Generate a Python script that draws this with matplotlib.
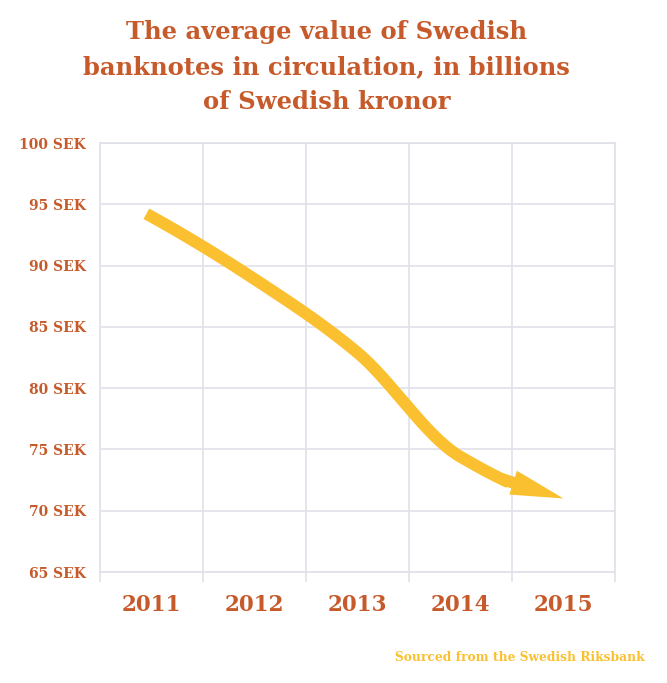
import numpy as np
import matplotlib
matplotlib.use("Agg")
import matplotlib.pyplot as plt
from matplotlib.patches import FancyArrowPatch

# data
years = ["2011", "2012", "2013", "2014", "2015"]
values = [94.0, 88.9, 82.9, 74.4, 71.0]
yticks = [65, 70, 75, 80, 85, 90, 95, 100]

title = "The average value of Swedish\nbanknotes in circulation, in billions\nof Swedish kronor"
source = "Sourced from the Swedish Riksbank"

rust = "#C65A2B"
yellow = "#FBC02F"
gridc = "#E0E2EA"


def pchip(xk, yk, xs):
    # monotone cubic (Fritsch-Carlson), numpy only
    xk = np.asarray(xk, float)
    yk = np.asarray(yk, float)
    h = np.diff(xk)
    d = np.diff(yk) / h
    m = np.zeros_like(yk)
    for i in range(1, len(xk) - 1):
        if d[i - 1] * d[i] > 0:
            w1 = 2 * h[i] + h[i - 1]
            w2 = h[i] + 2 * h[i - 1]
            m[i] = (w1 + w2) / (w1 / d[i - 1] + w2 / d[i])
    m[0] = ((2 * h[0] + h[1]) * d[0] - h[0] * d[1]) / (h[0] + h[1])
    m[-1] = ((2 * h[-1] + h[-2]) * d[-1] - h[-1] * d[-2]) / (h[-1] + h[-2])
    idx = np.clip(np.searchsorted(xk, xs) - 1, 0, len(h) - 1)
    t = (xs - xk[idx]) / h[idx]
    h00 = 2 * t**3 - 3 * t**2 + 1
    h10 = t**3 - 2 * t**2 + t
    h01 = -2 * t**3 + 3 * t**2
    h11 = t**3 - t**2
    return h00 * yk[idx] + h10 * h[idx] * m[idx] + h01 * yk[idx + 1] + h11 * h[idx] * m[idx + 1]


fig = plt.figure(figsize=(6.67, 6.83), dpi=100)
ax = fig.add_axes([0.15, 0.1625, 0.772, 0.628])

xpos = np.arange(len(years)) + 0.5

# smooth line, then arrow head for the last stretch
xs = np.linspace(0.45, 3.97, 300)
ys = pchip(xpos, values, xs)
ax.plot(xs, ys, color=yellow, lw=8.6, solid_capstyle="butt", zorder=3)

xa = 3.9
ya = pchip(xpos, values, np.array([xa]))[0]
arr = FancyArrowPatch((xa, ya), (xpos[-1], values[-1]),
                      arrowstyle="simple,head_length=38,head_width=18,tail_width=8.6",
                      mutation_scale=1, color=yellow, lw=0,
                      shrinkA=0, shrinkB=0, zorder=3)
ax.add_patch(arr)

ax.set_xlim(0, len(years))
ax.set_ylim(yticks[0], yticks[-1])

ax.set_yticks(yticks)
ax.set_yticklabels([f"{v} SEK" for v in yticks])
ax.set_xticks(np.arange(len(years) + 1))
ax.set_xticklabels([])
ax.set_xticks(xpos, minor=True)
ax.set_xticklabels(years, minor=True)

ax.grid(True, which="major", color=gridc, lw=1.2)
ax.set_axisbelow(True)
for s in ax.spines.values():
    s.set_color(gridc)
    s.set_linewidth(1.2)

ax.tick_params(axis="y", length=0, pad=10, labelcolor=rust, labelsize=10)
ax.tick_params(axis="x", which="major", length=7, width=1.2, color=gridc, direction="out")
ax.tick_params(axis="x", which="minor", length=0, pad=16, labelcolor=rust, labelsize=15.5)
for lab in ax.get_xticklabels(minor=True):
    lab.set_fontweight("bold")
    lab.set_family("DejaVu Serif")
for lab in ax.get_yticklabels():
    lab.set_family("DejaVu Serif")
    lab.set_fontweight("bold")

fig.text(0.49, 0.970, title, ha="center", va="top", color=rust,
         fontsize=17.5, family="DejaVu Serif", fontweight="bold", linespacing=1.56)
fig.text(0.967, 0.038, source, ha="right", va="center", color=yellow,
         fontsize=8.8, family="DejaVu Serif", fontweight="bold")

fig.savefig("out.png", dpi=100)
